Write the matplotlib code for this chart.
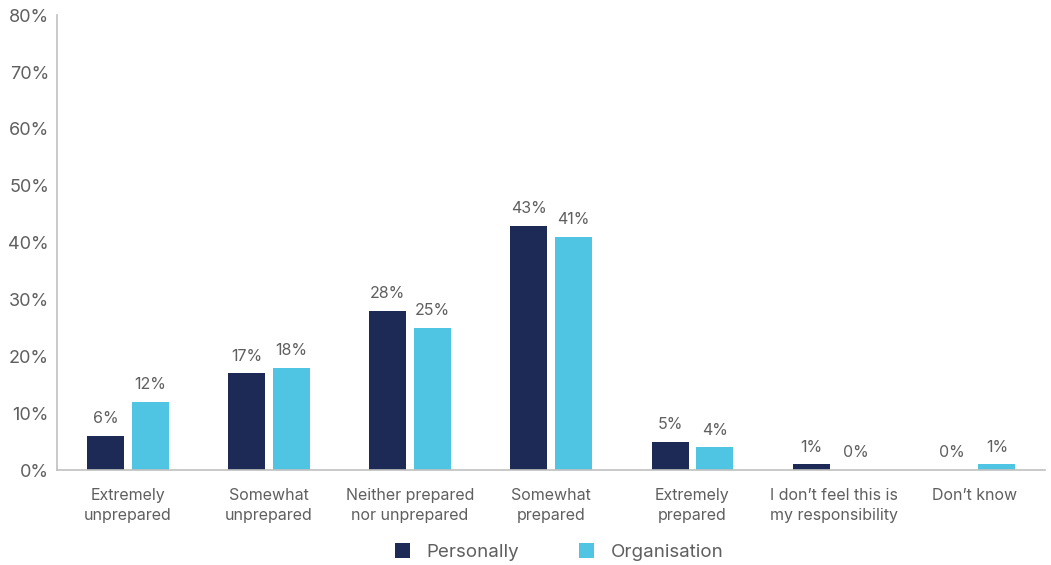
import matplotlib
matplotlib.use("Agg")
import matplotlib.pyplot as plt
import numpy as np

categories = [
    "Extremely\nunprepared",
    "Somewhat\nunprepared",
    "Neither prepared\nnor unprepared",
    "Somewhat\nprepared",
    "Extremely\nprepared",
    "I don\u2019t feel this is\nmy responsibility",
    "Don\u2019t know",
]
personally = [6, 17, 28, 43, 5, 1, 0]
organisation = [12, 18, 25, 41, 4, 0, 1]
series_names = ["Personally", "Organisation"]
yticks = [0, 10, 20, 30, 40, 50, 60, 70, 80]

dark = "#1e2a56"
light = "#4fc5e3"
text_color = "#5f5f5f"
spine_color = "#c0c0c0"

plt.rcParams["font.family"] = ["Inter", "DejaVu Sans"]

fig = plt.figure(figsize=(10.51, 5.65), dpi=100)
ax = fig.add_axes([0.0545, 0.168, 0.94, 0.805])

x = np.arange(len(categories))
w = 0.262
off = 0.158
b1 = ax.bar(x - off, personally, w, color=dark, label=series_names[0])
b2 = ax.bar(x + off, organisation, w, color=light, label=series_names[1])

for bars, vals in ((b1, personally), (b2, organisation)):
    for rect, v in zip(bars, vals):
        ax.annotate(f"{v}%", (rect.get_x() + rect.get_width() / 2, v),
                    xytext=(0, 7), textcoords="offset points",
                    ha="center", va="bottom", fontsize=11.5, color=text_color)

ax.set_xlim(-0.5, len(categories) - 0.5)
ax.set_ylim(0, 80)
ax.set_yticks(yticks)
ax.set_yticklabels([f"{t}%" for t in yticks], fontsize=13, color=text_color)
ax.set_xticks(x)
ax.set_xticklabels(categories, fontsize=11.5, color=text_color, linespacing=1.4)
ax.tick_params(axis="both", length=0)
ax.tick_params(axis="x", pad=13)
ax.tick_params(axis="y", pad=6)

for s in ("top", "right"):
    ax.spines[s].set_visible(False)
for s in ("left", "bottom"):
    ax.spines[s].set_color(spine_color)
    ax.spines[s].set_linewidth(1.2)

leg = fig.legend(handles=[b1, b2], labels=series_names, loc="center",
                 bbox_to_anchor=(0.532, 0.023), ncol=2, frameon=False,
                 prop={"size": 13.5},
                 handlelength=0.8, handleheight=0.8,
                 columnspacing=3.2, handletextpad=0.9)
for t in leg.get_texts():
    t.set_color(text_color)

fig.savefig("out.png", dpi=100)
